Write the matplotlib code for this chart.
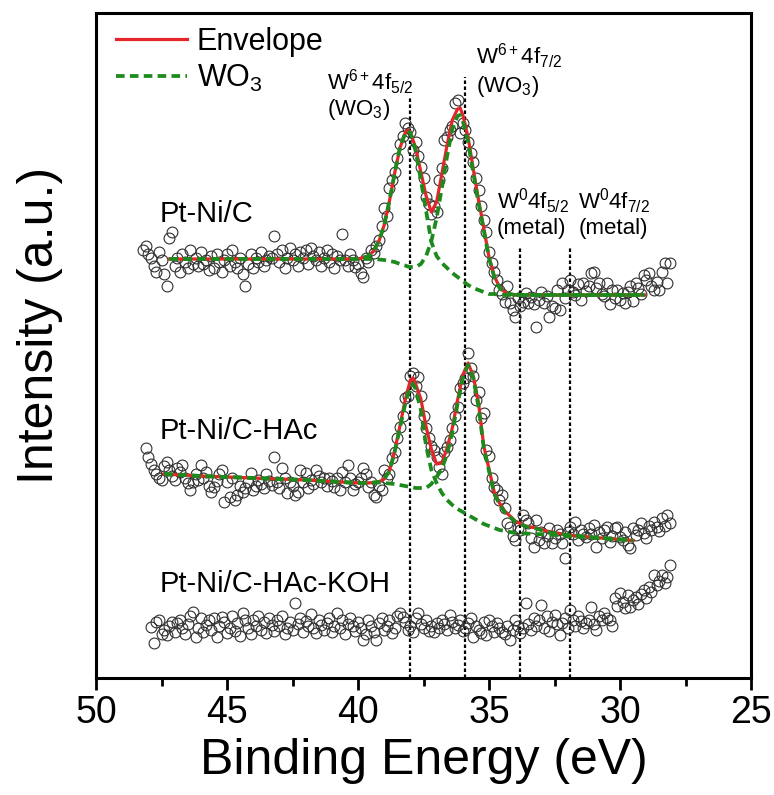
import numpy as np
import matplotlib
matplotlib.use("Agg")
import matplotlib.pyplot as plt
from matplotlib.ticker import MultipleLocator

plt.rcParams['font.family'] = ['Liberation Sans', 'DejaVu Sans']
plt.rcParams['mathtext.fontset'] = 'custom'
plt.rcParams['mathtext.rm'] = 'Liberation Sans'
plt.rcParams['mathtext.it'] = 'Liberation Sans:italic'
plt.rcParams['mathtext.bf'] = 'Liberation Sans:bold'

# measured points: 0.1 eV steps from 48.2 eV down to 28.1 eV
be_start = 48.2
be_step = 0.1
be = np.round(be_start - be_step * np.arange(202), 1)

# Pt-Ni/C (top)
top_counts = [
    428, 432, 424, 420, 412, 406, 426, 418, 404, 392,
    440, 446, 412, 420, 406, 424, 416, 410, 428, 414,
    420, 412, 426, 414, 418, 408, 422, 410, 424, 416,
    406, 418, 424, 412, 428, 416, 410, 420, 404, 392,
    414, 424, 410, 420, 416, 426, 412, 418, 422, 420,
    442, 424, 416, 428, 410, 420, 430, 418, 424, 412,
    426, 420, 428, 414, 430, 422, 418, 426, 412, 420,
    428, 416, 424, 410, 422, 418, 444, 418, 412, 424,
    418, 411, 414, 405, 401, 420, 416, 428, 425, 432,
    438, 452, 470, 462, 490, 498, 506, 520, 534, 542,
    555, 550, 546, 528, 536, 522, 511, 500, 481, 474,
    464, 472, 466, 498, 510, 538, 541, 548, 552, 575,
    578, 545, 555, 548, 536, 525, 516, 500, 488, 472,
    458, 446, 426, 415, 406, 398, 388, 384, 376, 392,
    375, 368, 361, 380, 372, 376, 385, 375, 381, 374,
    351, 378, 386, 375, 382, 361, 372, 370, 388, 368,
    395, 380, 388, 398, 386, 383, 394, 378, 395, 387,
    392, 405, 406, 390, 395, 384, 382, 395, 374, 388,
    380, 388, 378, 385, 375, 386, 392, 377, 395, 390,
    384, 403, 398, 405, 392, 388, 396, 388, 406, 415,
    395, 415,
]

# Pt-Ni/C-HAc (middle)
mid_counts = [
    np.nan, 230, 221, 214, 208, 204, 200, 198, 212, 216,
    208, 202, 198, 210, 206, 213, 200, 195, 188, 196,
    204, 198, 213, 200, 206, 192, 186, 191, 197, 204,
    208, 176, 196, 181, 200, 178, 183, 192, 186, 190,
    196, 205, 188, 192, 198, 194, 190, 204, 197, 193,
    221, 196, 190, 210, 200, 185, 196, 192, 183, 186,
    208, 196, 205, 190, 198, 194, 208, 202, 196, 200,
    192, 200, 197, 191, 200, 188, 206, 196, 213, 200,
    188, 194, 196, 200, 210, 204, 191, 196, 183, 181,
    192, 188, 208, 200, 204, 220, 226, 240, 251, 262,
    280, 282, 302, 305, 292, 301, 282, 262, 250, 240,
    232, 228, 221, 211, 204, 226, 231, 238, 250, 262,
    271, 290, 295, 300, 325, 310, 302, 278, 286, 260,
    265, 228, 222, 200, 191, 188, 178, 183, 170, 155,
    151, 142, 138, 150, 148, 163, 158, 155, 140, 131,
    158, 138, 146, 135, 142, 150, 135, 140, 148, 144,
    135, 120, 146, 151, 144, 156, 138, 148, 144, 141,
    150, 144, 153, 131, 146, 140, 148, 151, 136, 142,
    150, 151, 141, 138, 146, 133, 130, 150, 143, 148,
    155, 145, 140, 152, 148, 156, 151, 147, 160, 152,
    163, 155,
]

# Pt-Ni/C-HAc-KOH (bottom)
bot_counts = [
    np.nan, np.nan, np.nan, 51, 35, 56, 58, 44, 48, 43,
    52, 56, 46, 55, 58, 50, 44, 54, 62, 66,
    41, 50, 60, 46, 53, 58, 48, 60, 41, 52,
    61, 56, 45, 50, 62, 47, 55, 42, 65, 58,
    50, 44, 58, 52, 62, 48, 56, 45, 60, 53,
    47, 58, 52, 62, 44, 50, 56, 48, 75, 54,
    60, 46, 57, 52, 64, 50, 45, 58, 53, 48,
    55, 60, 46, 52, 65, 50, 58, 44, 54, 60,
    52, 47, 56, 50, 38, 44, 58, 52, 46, 38,
    55, 60, 48, 52, 58, 45, 50, 62, 65, 61,
    56, 48, 52, 46, 60, 65, 54, 50, 58, 47,
    52, 46, 55, 50, 58, 54, 48, 63, 56, 50,
    53, 58, 47, 50, 55, 60, 41, 52, 48, 45,
    56, 43, 58, 52, 46, 55, 50, 46, 44, 52,
    38, 48, 58, 52, 45, 50, 75, 54, 48, 60,
    52, 58, 73, 50, 62, 47, 56, 63, 54, 43,
    55, 60, 50, 68, 58, 52, 62, 57, 50, 55,
    58, 71, 54, 48, 62, 58, 65, 60, 58, 52,
    80, 72, 85, 76, 70, 83, 71, 78, 81, 74,
    84, 88, 80, 91, 86, 103, 93, 97, 103, 95,
    101, 113,
]

# fitted curves, Pt-Ni/C
top_fit_be = [47.2, 46.0, 44.0, 42.0, 40.0, 39.6, 39.4, 39.2, 39.0, 38.8,
              38.6, 38.4, 38.2, 38.1, 38.0, 37.8, 37.6, 37.4, 37.2, 37.0,
              36.8, 36.6, 36.4, 36.2, 36.1, 36.0, 35.8, 35.6, 35.4, 35.2,
              35.0, 34.8, 34.6, 34.4, 34.2, 34.0, 33.0, 32.0, 31.0, 30.0, 29.05]
top_env = [419, 419, 419, 419, 419, 422, 427, 437, 453, 477,
           505, 530, 545, 548, 546, 530, 506, 482, 466, 476,
           504, 533, 558, 569, 570, 563, 541, 509, 478, 450,
           421, 402, 391, 386, 384, 383, 383, 383, 383, 383, 383]
top_wo3_a = [419, 419, 419, 419, 419, 422, 427, 437, 453, 477,
             505, 530, 545, 547, 545, 527, 498, 467, 436, 422,
             415, 410, 405, 401, 399, 397, 393, 390, 388, 386,
             384, 384, 383, 383, 383, 383, 383, 383, 383, 383, 383]
top_wo3_b = [419, 419, 419, 419, 419, 419, 419, 418.5, 418, 417,
             416, 414, 412.5, 411.5, 411, 411, 414, 422, 437, 460,
             490, 522, 549, 562, 563, 557, 536, 505, 475, 448,
             420, 401, 390, 386, 384, 383, 383, 383, 383, 383, 383]

# fitted curves, Pt-Ni/C-HAc
mid_fit_be = [47.4, 46.0, 44.0, 42.0, 40.0, 39.6, 39.2, 39.0, 38.8, 38.6,
              38.4, 38.2, 38.0, 37.9, 37.8, 37.6, 37.4, 37.2, 37.0, 36.8,
              36.6, 36.4, 36.2, 36.0, 35.8, 35.6, 35.4, 35.2, 35.0, 34.8,
              34.6, 34.4, 34.2, 34.0, 33.6, 33.2, 32.8, 32.0, 31.0, 30.0, 29.5]
mid_env = [204, 202, 200, 198, 195, 195, 196, 199, 207, 227,
           252, 278, 298, 300, 294, 279, 251, 229, 214, 215,
           230, 250, 278, 303, 315, 302, 275, 232, 209, 186,
           175, 167, 162, 157, 152, 150, 147, 143, 140.5, 138.5, 137.5]
mid_wo3_a = [204, 202, 200, 198, 195, 195, 196, 199, 207, 226,
             250, 274, 292, 294, 289, 268, 232, 208, 195, 185,
             178, 173, 169, 166, 163, 160, 157, 154, 152, 150,
             148, 147, 146, 145, 144.5, 144, 143.5, 142, 140, 138.3, 137.3]
mid_wo3_b = [204, 202, 200, 198, 195, 195, 195.5, 195, 194.5, 194,
             193, 192, 191, 190.5, 190, 190, 190, 194, 201, 209,
             224, 246, 274, 300, 313, 300, 271, 230, 207, 184,
             174, 166, 161, 156.5, 151.5, 149.5, 146, 143, 140.7, 138.7, 137.5]

# reference lines (eV) and how high they reach
ref_be = [38.0, 35.9, 33.8, 31.9]
ref_top = [581, 601, 430, 430]

red = '#e4262b'
green = '#1c8a1c'

fig = plt.figure(figsize=(7.74, 7.95), dpi=100)
ax = fig.add_axes([96 / 774, 1 - 678 / 795, 655 / 774, 665 / 795])

ax.vlines(ref_be, 0, ref_top, colors='black', lw=1.6, linestyles=(0, (1.6, 1.1)), zorder=1)

for counts in (top_counts, mid_counts, bot_counts):
    ax.plot(be, counts, ls='none', marker='o', ms=7.8, mfc='none',
            mec='#303030', mew=0.8, zorder=2)

dash = (0, (2.3, 1.4))
env_line, = ax.plot(top_fit_be, top_env, color=red, lw=2.3, zorder=3)
wo3_line, = ax.plot(top_fit_be, top_wo3_a, color=green, lw=2.7, ls=dash, zorder=4)
ax.plot(top_fit_be, top_wo3_b, color=green, lw=2.7, ls=dash, zorder=4)
ax.plot(mid_fit_be, mid_env, color=red, lw=2.3, zorder=3)
ax.plot(mid_fit_be, mid_wo3_a, color=green, lw=2.7, ls=dash, zorder=4)
ax.plot(mid_fit_be, mid_wo3_b, color=green, lw=2.7, ls=dash, zorder=4)

# sample names
ax.text(47.56, 456, 'Pt-Ni/C', fontsize=21, va='baseline')
ax.text(47.56, 239, 'Pt-Ni/C-HAc', fontsize=21, va='baseline')
ax.text(47.56, 86, 'Pt-Ni/C-HAc-KOH', fontsize=21, va='baseline')

# peak assignments (y = baseline of the second line)
ax.text(41.19, 563, 'W$^{6+}$4f$_{5/2}$\n(WO$_3$)', fontsize=16,
        va='baseline', linespacing=1.0)
ax.text(35.5, 586, 'W$^{6+}$4f$_{7/2}$\n(WO$_3$)', fontsize=16,
        va='baseline', linespacing=1.15)
ax.text(34.71, 444, 'W$^0$4f$_{5/2}$\n(metal)', fontsize=16,
        va='baseline', linespacing=1.1)
ax.text(31.59, 444, 'W$^0$4f$_{7/2}$\n(metal)', fontsize=16,
        va='baseline', linespacing=1.1)

ax.legend(handles=[env_line, wo3_line], labels=['Envelope', r'WO$_3$'],
          loc='upper left', bbox_to_anchor=(0.03, 0.979), frameon=False,
          fontsize=22, handlelength=2.35, handletextpad=0.3,
          labelspacing=0.2, borderpad=0, borderaxespad=0)

ax.set_xlim(50, 25)
ax.set_ylim(0, 665)
ax.set_xticks([50, 45, 40, 35, 30, 25])
ax.xaxis.set_minor_locator(MultipleLocator(2.5))
ax.set_yticks([])
ax.tick_params(axis='x', which='major', direction='out', length=8.5, width=2,
               labelsize=27, pad=4)
ax.tick_params(axis='x', which='minor', direction='out', length=5.5, width=2)
for sp in ax.spines.values():
    sp.set_linewidth(2.2)

ax.set_xlabel('Binding Energy (eV)', fontsize=36)
ax.xaxis.set_label_coords(0.5, -0.09)
ax.set_ylabel('Intensity (a.u.)', fontsize=36)
ax.yaxis.set_label_coords(-0.05, 0.53)

fig.savefig('out.png', dpi=100)
